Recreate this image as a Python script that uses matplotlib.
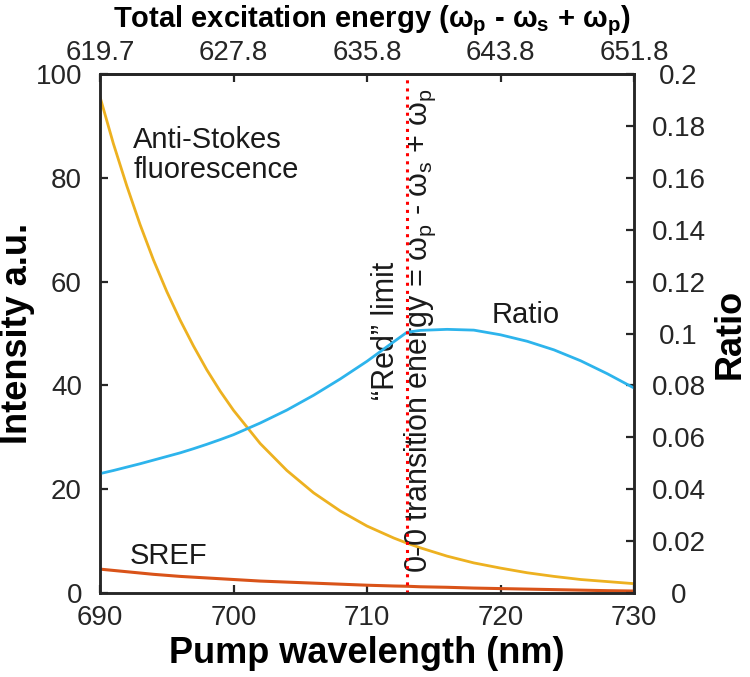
import matplotlib
matplotlib.use("Agg")
import matplotlib.pyplot as plt

plt.rcParams['font.family'] = ['Liberation Sans', 'DejaVu Sans']
plt.rcParams['mathtext.fontset'] = 'custom'
plt.rcParams['mathtext.rm'] = 'Liberation Sans'
plt.rcParams['mathtext.it'] = 'Liberation Sans'
plt.rcParams['mathtext.bf'] = 'Liberation Sans:bold'
plt.rcParams['mathtext.default'] = 'regular'

# data
wavelength = [690, 691, 692, 693, 694, 695, 696, 697, 698, 699, 700, 702, 704,
              706, 708, 710, 712, 713, 714, 716, 718, 720, 722, 724, 726, 728,
              730]
anti_stokes = [95.6, 86.6, 78.5, 71.0, 64.2, 58.1, 52.6, 47.6, 43.0, 38.9, 35.2,
               28.8, 23.6, 19.3, 15.8, 12.9, 10.6, 9.6, 8.7, 7.1, 5.8, 4.8, 3.9,
               3.2, 2.6, 2.2, 1.8]
sref = [4.6, 4.35, 4.1, 3.85, 3.6, 3.4, 3.2, 3.05, 2.9, 2.75, 2.6, 2.3, 2.1,
        1.9, 1.7, 1.5, 1.35, 1.3, 1.2, 1.1, 0.95, 0.85, 0.75, 0.65, 0.55, 0.45,
        0.38]
ratio = [0.046, 0.0472, 0.0485, 0.0498, 0.0512, 0.0526, 0.054, 0.0556, 0.0573,
         0.0591, 0.061, 0.0655, 0.0705, 0.0762, 0.0825, 0.0893, 0.0968, 0.1005,
         0.1012, 0.1016, 0.1013, 0.0995, 0.097, 0.0937, 0.0895, 0.0845, 0.079]

x_ticks = [690, 700, 710, 720, 730]
top_labels = ['619.7', '627.8', '635.8', '643.8', '651.8']
red_limit = 713

C_AS = '#EDB120'
C_SREF = '#D95319'
C_RATIO = '#2DB4EC'
AX_COL = '#262626'

fig = plt.figure(figsize=(7.5, 6.77), dpi=100)
ax = fig.add_axes([100 / 750, 84 / 677, 534 / 750, 519 / 677])
ax2 = ax.twinx()

ax.plot(wavelength, anti_stokes, color=C_AS, lw=2)
ax.plot(wavelength, sref, color=C_SREF, lw=2.2)
ax2.plot(wavelength, ratio, color=C_RATIO, lw=2)
ax2.axvline(red_limit, color='red', ls=':', lw=2.2)

ax.set_xlim(690, 730)
ax.set_ylim(0, 100)
ax2.set_ylim(0, 0.2)
ax.set_xticks(x_ticks)
ax.set_yticks([0, 20, 40, 60, 80, 100])
ax2.set_yticks([0, 0.02, 0.04, 0.06, 0.08, 0.1, 0.12, 0.14, 0.16, 0.18, 0.2])
ax2.set_yticklabels(['0', '0.02', '0.04', '0.06', '0.08', '0.1', '0.12',
                     '0.14', '0.16', '0.18', '0.2'])

top = ax.secondary_xaxis('top')
top.set_xticks(x_ticks)
top.set_xticklabels(top_labels)

for a in (ax, ax2, top):
    for s in a.spines.values():
        s.set_linewidth(1.8)
        s.set_color(AX_COL)
    a.tick_params(direction='in', length=6, width=1.6, color=AX_COL,
                  labelsize=20, labelcolor=AX_COL)
ax.tick_params(axis='x', pad=8.5)
ax.tick_params(axis='y', pad=13)
top.tick_params(axis='x', pad=6)
ax2.tick_params(axis='y', pad=32)
plt.setp(ax2.get_yticklabels(), ha='center')

ax.set_xlabel('Pump wavelength (nm)', fontsize=26, fontweight='bold',
              va='center')
ax.xaxis.set_label_coords(0.5, -0.116)
ax.set_ylabel('Intensity a.u.', fontsize=26, fontweight='bold', va='center')
ax.yaxis.set_label_coords(-0.155, 0.5)
ax2.set_ylabel('Ratio', fontsize=26, fontweight='bold', rotation=90,
               va='center')
ax2.yaxis.set_label_coords(1.18, 0.5)

fig.text(0.496, 1 - 21 / 677,
         r'Total excitation energy ($\omega_p$ - $\omega_s$ + $\omega_p$)',
         ha='center', va='center', fontsize=21, fontweight='bold')

ax.text(692.5, 84.4, 'Anti-Stokes\nfluorescence', fontsize=21,
        ha='left', va='center', color='#1a1a1a', linespacing=1.1)
ax.text(695.1, 7.1, 'SREF', fontsize=21, ha='center', va='center',
        color='#1a1a1a')
ax.text(721.9, 53.5, 'Ratio', fontsize=21, ha='center', va='center',
        color='#1a1a1a')
ax.text(712.8, 50.6,
        '\u201cRed\u201d limit\n0-0 transition energy = $\\omega_p$ - $\\omega_s$ + $\\omega_p$',
        fontsize=22, rotation=90, ha='center', va='center',
        multialignment='center', color='#1a1a1a', linespacing=1.1)

fig.savefig('out.png', dpi=100)
